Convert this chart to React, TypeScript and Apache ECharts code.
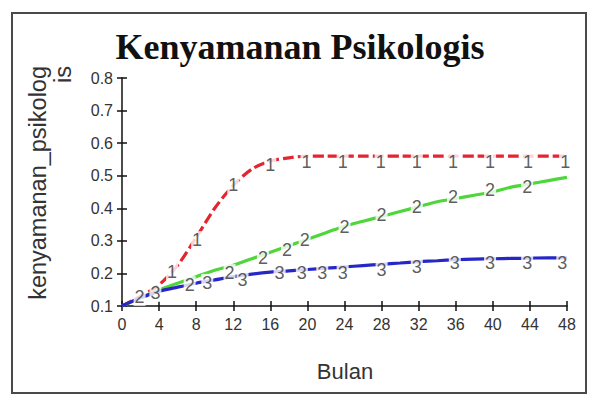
import React, { useEffect, useRef } from "react";
import * as echarts from "echarts";

const months = [0, 2, 4, 6, 8, 10, 12, 14, 16, 18, 20, 22, 24, 26, 28, 30, 32, 34, 36, 38, 40, 42, 44, 46, 48];
const series1 = [0.10, 0.13, 0.165, 0.225, 0.31, 0.40, 0.47, 0.52, 0.545, 0.555, 0.56, 0.56, 0.56, 0.56, 0.56, 0.56, 0.56, 0.56, 0.56, 0.56, 0.56, 0.56, 0.56, 0.56, 0.56];
const series2 = [0.10, 0.125, 0.15, 0.17, 0.19, 0.21, 0.225, 0.245, 0.265, 0.285, 0.305, 0.325, 0.345, 0.36, 0.375, 0.39, 0.405, 0.42, 0.43, 0.44, 0.45, 0.465, 0.475, 0.485, 0.495];
const series3 = [0.10, 0.125, 0.145, 0.158, 0.17, 0.18, 0.19, 0.198, 0.204, 0.208, 0.212, 0.216, 0.22, 0.224, 0.228, 0.232, 0.236, 0.239, 0.242, 0.244, 0.245, 0.246, 0.247, 0.248, 0.248];

const label1Months = [5.4, 8.1, 12, 16, 19.9, 23.8, 27.9, 31.8, 35.7, 39.7, 43.8, 47.8];
const label1Values = [0.204, 0.302, 0.471, 0.533, 0.542, 0.542, 0.542, 0.542, 0.542, 0.542, 0.542, 0.542];
const label2Months = [1.9, 7.3, 11.6, 15.2, 17.8, 19.7, 24.0, 28.0, 31.8, 35.7, 39.7, 43.7];
const label2Values = [0.128, 0.164, 0.201, 0.247, 0.272, 0.302, 0.342, 0.379, 0.404, 0.434, 0.456, 0.465];
const label3Months = [3.6, 9.2, 13.0, 17.0, 19.4, 21.6, 23.8, 28.0, 31.8, 35.9, 39.7, 43.7, 47.5];
const label3Values = [0.14, 0.171, 0.18, 0.201, 0.201, 0.201, 0.201, 0.21, 0.22, 0.232, 0.232, 0.232, 0.232];

const xTicks = { min: 0, max: 48, interval: 4 };
const yTicks = { min: 0.1, max: 0.8, interval: 0.1 };

const titleText = "Kenyamanan Psikologis";
const xName = "Bulan";
const yNameLine1 = "kenyamanan_psikolog";
const yNameLine2 = "is";

const SANS = "'Liberation Sans', Arial, sans-serif";

export default function App() {
  const ref = useRef<HTMLDivElement>(null);
  useEffect(() => {
    if (!ref.current) return;
    const chart = echarts.init(ref.current, null, { renderer: "svg" });
    const pair = (xs: number[], ys: number[]) => xs.map((x, i) => [x, ys[i]]);
    const labelSeries = (name: string, xs: number[], ys: number[]) => ({
      type: "scatter",
      name,
      data: pair(xs, ys),
      symbol: "circle",
      symbolSize: 1,
      itemStyle: { color: "rgba(0,0,0,0)" },
      z: 5,
      label: {
        show: true,
        position: "inside",
        formatter: name,
        color: "#333333",
        fontFamily: SANS,
        fontSize: 18,
        backgroundColor: "#ffffff",
        padding: [0, 1],
      },
    });
    const lineSeries = (ys: number[], color: string, type: any) => ({
      type: "line",
      data: pair(months, ys),
      showSymbol: false,
      smooth: 0.3,
      lineStyle: { color, width: 3.2, type },
      z: 3,
    });
    chart.setOption({
      animation: false,
      backgroundColor: "#ffffff",
      grid: { left: 122, right: 29, top: 78, bottom: 98 },
      xAxis: [
        {
          type: "value",
          position: "bottom",
          ...xTicks,
          axisLine: { show: true, lineStyle: { color: "#111", width: 1.5 } },
          axisTick: { show: true, inside: false, length: 5, lineStyle: { color: "#111", width: 1.5 } },
          axisLabel: { color: "#333", fontFamily: SANS, fontSize: 16, margin: 10 },
          splitLine: { show: false },
        },
        {
          type: "value",
          position: "bottom",
          offset: 0,
          ...xTicks,
          axisLine: { show: false },
          axisTick: { show: true, inside: true, length: 5, lineStyle: { color: "#111", width: 1.5 } },
          axisLabel: { show: false },
          splitLine: { show: false },
        },
      ],
      yAxis: [
        {
          type: "value",
          position: "left",
          ...yTicks,
          axisLine: { show: true, lineStyle: { color: "#111", width: 1.5 } },
          axisTick: { show: true, inside: false, length: 5, lineStyle: { color: "#111", width: 1.5 } },
          axisLabel: {
            color: "#333",
            fontFamily: SANS,
            fontSize: 16,
            margin: 9,
            formatter: (v: number) => v.toFixed(1),
          },
          splitLine: { show: false },
        },
        {
          type: "value",
          position: "left",
          offset: 0,
          ...yTicks,
          axisLine: { show: false },
          axisTick: { show: true, inside: true, length: 5, lineStyle: { color: "#111", width: 1.5 } },
          axisLabel: { show: false },
          splitLine: { show: false },
        },
      ],
      series: [
        lineSeries(series1, "#e42530", [11, 4]),
        lineSeries(series2, "#4ed63a", "solid"),
        lineSeries(series3, "#2727c8", "solid"),
        labelSeries("1", label1Months, label1Values),
        labelSeries("2", label2Months, label2Values),
        labelSeries("3", label3Months, label3Values),
      ],
      graphic: [
        {
          type: "rect",
          shape: { x: 12, y: 13, width: 574, height: 380 },
          style: { fill: "none", stroke: "#4a4a4a", lineWidth: 2 },
          z: 0,
        },
        {
          type: "text",
          x: 300,
          y: 47,
          style: {
            text: titleText,
            fontFamily: "'Liberation Serif', 'Times New Roman', serif",
            fontWeight: "bold",
            fontSize: 36,
            fill: "#111",
            textAlign: "center",
            textVerticalAlign: "middle",
          },
        },
        {
          type: "text",
          x: 345,
          y: 371,
          style: {
            text: xName,
            fontFamily: SANS,
            fontSize: 22,
            fill: "#333",
            textAlign: "center",
            textVerticalAlign: "middle",
          },
        },
        {
          type: "text",
          x: 38,
          y: 66,
          rotation: Math.PI / 2,
          style: {
            text: yNameLine1,
            fontFamily: SANS,
            fontSize: 23.5,
            fill: "#333",
            textAlign: "right",
            textVerticalAlign: "middle",
          },
        },
        {
          type: "text",
          x: 63,
          y: 66,
          rotation: Math.PI / 2,
          style: {
            text: yNameLine2,
            fontFamily: SANS,
            fontSize: 23.5,
            fill: "#333",
            textAlign: "right",
            textVerticalAlign: "middle",
          },
        },
      ],
    });
    return () => chart.dispose();
  }, []);
  return (
    <div
      ref={ref}
      style={{ position: "fixed", left: 0, top: 0, width: 596, height: 404, background: "#fff" }}
    />
  );
}
